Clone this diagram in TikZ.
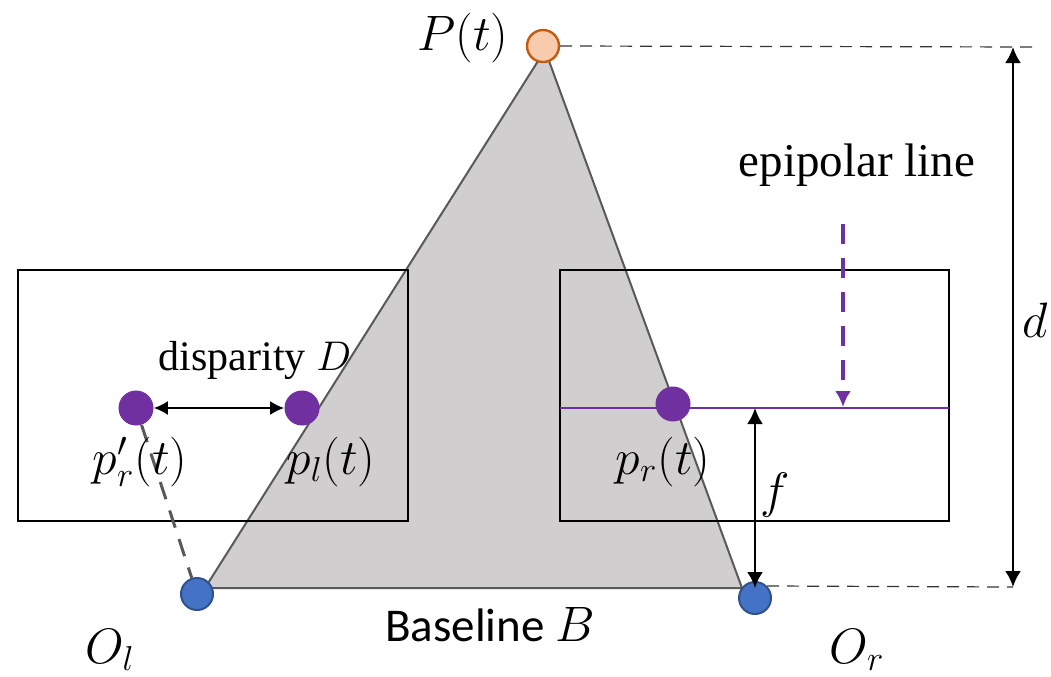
\documentclass[tikz,border=0pt]{standalone}
\usepackage{fontspec}
\setmainfont{Liberation Serif}
\newfontfamily\calibri{Carlito}
\usetikzlibrary{arrows.meta}
\definecolor{trigray}{HTML}{D0CECE}
\definecolor{edgegray}{HTML}{595959}
\definecolor{dotpurple}{HTML}{7030A0}
\definecolor{camblue}{HTML}{4472C4}
\definecolor{camedge}{HTML}{2F528F}
\definecolor{ptorange}{HTML}{F8CBAD}
\definecolor{ptedge}{HTML}{C55A11}

\begin{document}
\begin{tikzpicture}[x=0.5pt,y=-0.5pt,
    lbl/.style={font=\fontsize{25}{30}\selectfont},
    imgdot/.style={circle,fill=dotpurple,minimum size=17.5pt,inner sep=0pt},
    camdot/.style={circle,fill=camblue,draw=camedge,line width=1pt,minimum size=16pt,inner sep=0pt},
    guide/.style={edgegray!60!black,line width=0.6pt,dash pattern=on 6pt off 4pt},
    dimarrow/.style={{Latex[length=8pt,width=8pt]}-{Latex[length=8pt,width=8pt]},line width=1.2pt}]
  \useasboundingbox (0,0) rectangle (1051,676);
  % Triangle of rays
  \coordinate (A) at (205,588);
  \coordinate (B) at (742,588);
  \coordinate (C) at (545,50);
  \filldraw[fill=trigray, draw=edgegray, line width=1pt] (A) -- (B) -- (C) -- cycle;
  % Image planes
  \draw[line width=1.2pt] (18,270) rectangle (408,521);
  \draw[line width=1.2pt] (560,270) rectangle (949,521);
  \draw[dotpurple, line width=1pt] (560,408) -- (949,408);
  % Points
  \node[circle,fill=ptorange,draw=ptedge,line width=1.2pt,minimum size=16pt,inner sep=0pt] (P) at (543,46) {};
  \node[camdot] (Ol) at (197,594) {};
  \node[camdot] (Or) at (755,598) {};
  \node[imgdot] (prp) at (136,408) {};
  \node[imgdot] (pl) at (302,408) {};
  \node[imgdot] (pr) at (673,404) {};
  \draw[edgegray, line width=1.5pt, dash pattern=on 9pt off 6pt] (prp) -- (Ol);
  % Disparity
  \draw[{Latex[length=7pt,width=7pt]}-{Latex[length=7pt,width=7pt]}, line width=0.9pt] (prp) -- (pl);
  % Distances
  \coordinate (dtop) at (1013,47);
  \coordinate (dbot) at (1013,587);
  \coordinate (ftop) at (755,408);
  \coordinate (fbot) at (755,588);
  \coordinate (eptop) at (843,224);
  \coordinate (epbot) at (843,407);
  \draw[guide] (P.east) -- (1035,47);
  \draw[guide] (Or.north east) -- (dbot);
  \draw[dimarrow] (dtop) -- (dbot);
  \draw[dimarrow] (ftop) -- (fbot);
  \draw[dotpurple, line width=2pt, dash pattern=on 10pt off 7pt, -{Latex[length=8pt,width=8pt]}] (eptop) -- (epbot);
  % Labels
  \node[lbl] at (463,38) {$P(t)$};
  \node[lbl] at (1035,320) {$d$};
  \node[lbl] at (775,495) {$f$};
  \node[font=\fontsize{23.5}{28}\selectfont] at (857,165) {epipolar line};
  \node[font=\fontsize{21}{25}\selectfont] at (255,360) {disparity $D$};
  \node[lbl] at (140,462) {$p'_r(t)$};
  \node[lbl] at (331,462) {$p_l(t)$};
  \node[lbl] at (663,462) {$p_r(t)$};
  \node[font=\fontsize{23.5}{28}\selectfont\calibri] at (490,625) {Baseline $B$};
  \node[lbl] at (110,650) {$O_l$};
  \node[lbl] at (857,650) {$O_r$};
\end{tikzpicture}
\end{document}
